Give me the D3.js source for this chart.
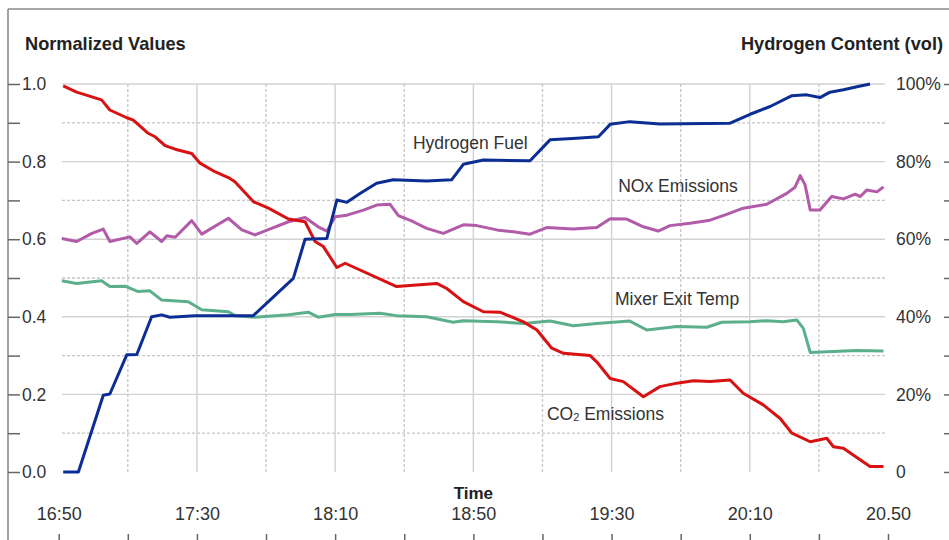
<!DOCTYPE html>
<html>
<head>
<meta charset="utf-8">
<script src="https://cdn.jsdelivr.net/npm/d3@7"></script>
<style>
  html, body { margin: 0; padding: 0; background: #fff; }
  svg { display: block; font-family: "Liberation Sans", Arial, Helvetica, sans-serif; }
</style>
</head>
<body>
<svg id="chart" width="949" height="540"></svg>
<script>
// Sample times are minutes after 16:50.
const co2Minutes = [1.3, 5.2, 12.4, 14.8, 19.7, 21.6, 25.9, 27.9, 30.8, 33.7, 38.5, 40.9, 45.2, 49.1, 51.0, 56.3, 60.7, 66.5, 71.3, 74.2, 76.6, 80.5, 82.9, 97.8, 109.4, 112.3, 117.1, 122.9, 127.7, 134.5, 138.4, 142.7, 146.1, 153.8, 155.7, 159.6, 163.4, 169.2, 174.0, 178.9, 183.7, 188.5, 194.3, 198.1, 203.9, 208.8, 212.2, 217.5, 222.3, 224.2, 227.1, 231.4, 234.8, 238.7];
const co2Values = [0.995, 0.979, 0.959, 0.933, 0.913, 0.907, 0.873, 0.864, 0.841, 0.832, 0.821, 0.796, 0.774, 0.759, 0.748, 0.697, 0.680, 0.652, 0.645, 0.594, 0.581, 0.527, 0.538, 0.478, 0.486, 0.473, 0.439, 0.413, 0.412, 0.387, 0.366, 0.319, 0.306, 0.300, 0.284, 0.241, 0.233, 0.194, 0.220, 0.229, 0.235, 0.233, 0.237, 0.203, 0.173, 0.138, 0.100, 0.078, 0.087, 0.065, 0.061, 0.035, 0.014, 0.014];

const hydrogenMinutes = [1.3, 5.7, 12.9, 14.8, 19.7, 22.6, 26.9, 29.8, 32.2, 39.4, 56.3, 67.9, 71.3, 77.6, 80.5, 83.4, 87.2, 92.0, 96.8, 106.5, 113.7, 117.1, 122.9, 136.4, 142.2, 149.9, 156.2, 159.6, 165.3, 174.0, 194.3, 200.1, 205.9, 212.2, 216.5, 220.3, 223.2, 227.1, 231.0, 234.8];
const hydrogenPercent = [0, 0, 19.8, 20.1, 30.2, 30.3, 40.0, 40.5, 39.9, 40.3, 40.3, 49.9, 60.0, 60.2, 70.1, 69.5, 71.8, 74.4, 75.3, 75.0, 75.3, 79.3, 80.4, 80.2, 85.6, 86.0, 86.4, 89.6, 90.3, 89.7, 89.9, 92.2, 94.2, 97.0, 97.2, 96.5, 97.9, 98.5, 99.3, 100];

const noxMinutes = [0.9, 5.2, 9.6, 12.9, 14.8, 20.6, 22.6, 26.4, 29.8, 31.3, 33.7, 38.5, 41.4, 49.1, 53.0, 56.8, 61.6, 66.5, 71.3, 75.1, 77.6, 80.0, 83.4, 88.2, 92.0, 95.9, 98.3, 102.6, 106.5, 111.3, 117.1, 121.0, 126.8, 131.6, 136.4, 141.2, 148.9, 155.7, 159.6, 164.4, 169.2, 173.5, 176.9, 182.7, 188.5, 193.3, 198.1, 204.9, 210.7, 213.1, 214.6, 216.0, 217.5, 220.3, 223.7, 227.1, 230.5, 232.0, 233.9, 236.8, 238.7];
const noxValues = [0.602, 0.594, 0.615, 0.626, 0.594, 0.606, 0.589, 0.619, 0.594, 0.609, 0.605, 0.648, 0.613, 0.654, 0.624, 0.611, 0.628, 0.645, 0.656, 0.632, 0.621, 0.658, 0.662, 0.675, 0.688, 0.690, 0.661, 0.645, 0.628, 0.615, 0.637, 0.635, 0.624, 0.619, 0.613, 0.630, 0.626, 0.630, 0.653, 0.652, 0.632, 0.621, 0.635, 0.641, 0.649, 0.664, 0.680, 0.690, 0.718, 0.734, 0.764, 0.740, 0.675, 0.675, 0.710, 0.704, 0.716, 0.710, 0.727, 0.722, 0.735];

const mixerMinutes = [0.9, 5.2, 12.4, 14.8, 19.2, 23.0, 26.4, 29.8, 37.5, 41.4, 49.1, 51.0, 56.8, 66.5, 72.2, 75.1, 80.0, 84.3, 93.0, 97.8, 106.5, 114.2, 117.1, 126.8, 134.5, 142.2, 148.9, 155.7, 165.3, 170.2, 178.9, 187.6, 191.9, 200.1, 204.9, 209.7, 213.6, 215.5, 217.5, 222.3, 231.0, 238.7];
const mixerValues = [0.493, 0.486, 0.493, 0.478, 0.479, 0.465, 0.467, 0.443, 0.439, 0.418, 0.413, 0.403, 0.399, 0.405, 0.412, 0.399, 0.406, 0.406, 0.409, 0.403, 0.400, 0.386, 0.390, 0.387, 0.383, 0.389, 0.377, 0.383, 0.389, 0.366, 0.375, 0.373, 0.386, 0.387, 0.390, 0.387, 0.392, 0.370, 0.308, 0.310, 0.313, 0.312];

// Axis ticks and labels
const leftTickValues = [0, 0.1, 0.2, 0.3, 0.4, 0.5, 0.6, 0.7, 0.8, 0.9, 1.0];
const leftLabelValues = [0, 0.2, 0.4, 0.6, 0.8, 1.0];
const rightLabelValues = [0, 20, 40, 60, 80, 100];
const rightLabelText = ["0", "20%", "40%", "60%", "80%", "100%"];
const timeTickMinutes = [0, 20, 40, 60, 80, 100, 120, 140, 160, 180, 200, 220, 240];
const timeLabelMinutes = [0, 40, 80, 120, 160, 200, 240];
const timeLabelText = ["16:50", "17:30", "18:10", "18:50", "19:30", "20:10", "20.50"];
const solidGridMinutes = [40, 80, 120, 160, 200];
const dottedGridMinutes = [20, 60, 100, 140, 180, 220];
const solidGridValues = [0.2, 0.4, 0.6, 0.8, 1.0];
const dottedGridValues = [0.1, 0.3, 0.5, 0.7, 0.9];

const colors = { co2: "#d81212", hydrogen: "#0c2e94", nox: "#b25ba9", mixer: "#5caf8d" };

const start = new Date(2020, 0, 1, 16, 50);
const at = m => new Date(start.getTime() + m * 60000);

const svg = d3.select("#chart");
svg.append("rect").attr("width", 949).attr("height", 540).attr("fill", "#fff");

const x = d3.scaleTime().domain([at(0), at(240)]).range([58.7, 888]);
const y = d3.scaleLinear().domain([0, 1]).range([472, 84]);
const yPct = d3.scaleLinear().domain([0, 100]).range([472, 84]);

const gridLeft = 62, gridRight = 885;

// Frame
svg.append("line").attr("x1", 8).attr("x2", 949).attr("y1", 9).attr("y2", 9)
  .attr("stroke", "#8a8a8a").attr("stroke-width", 1.6);
svg.append("line").attr("x1", 8).attr("x2", 8).attr("y1", 9).attr("y2", 540)
  .attr("stroke", "#8a8a8a").attr("stroke-width", 1.6);

// Grid
const grid = svg.append("g");
grid.selectAll(".hs").data(solidGridValues).join("line")
  .attr("x1", gridLeft).attr("x2", gridRight)
  .attr("y1", d => y(d)).attr("y2", d => y(d))
  .attr("stroke", "#d2d2d2").attr("stroke-width", 1.4);
grid.selectAll(".hd").data(dottedGridValues).join("line")
  .attr("x1", gridLeft).attr("x2", gridRight)
  .attr("y1", d => y(d)).attr("y2", d => y(d))
  .attr("stroke", "#c6c6c6").attr("stroke-width", 1.3).attr("stroke-dasharray", "3,2");
grid.selectAll(".vs").data(solidGridMinutes).join("line")
  .attr("x1", d => x(at(d))).attr("x2", d => x(at(d)))
  .attr("y1", y(1)).attr("y2", y(0))
  .attr("stroke", "#d2d2d2").attr("stroke-width", 1.4);
grid.selectAll(".vd").data(dottedGridMinutes).join("line")
  .attr("x1", d => x(at(d))).attr("x2", d => x(at(d)))
  .attr("y1", y(1)).attr("y2", y(0))
  .attr("stroke", "#c6c6c6").attr("stroke-width", 1.3).attr("stroke-dasharray", "3,2");

// Left axis: ticks at every 0.1, labels at every 0.2
const leftAxis = svg.append("g").attr("transform", "translate(8,0)")
  .call(d3.axisRight(y).tickValues(leftTickValues).tickSize(12).tickPadding(2)
    .tickFormat(d => leftLabelValues.some(v => Math.abs(v - d) < 1e-9) ? d3.format(".1f")(d) : ""));
leftAxis.select(".domain").remove();
leftAxis.selectAll("line").attr("stroke", "#666").attr("stroke-width", 1.5);
leftAxis.selectAll("text").attr("fill", "#333").attr("font-size", 17.5)
  .attr("font-family", "Liberation Sans, Arial, sans-serif");

// Right axis: ticks at the window edge, labels beside the plot
const rightTicks = svg.append("g").attr("transform", "translate(949,0)")
  .call(d3.axisLeft(yPct).tickValues(leftTickValues.map(v => v * 100)).tickSize(5).tickFormat(""));
rightTicks.select(".domain").remove();
rightTicks.selectAll("line").attr("stroke", "#666").attr("stroke-width", 1.5);

const rightLabels = svg.append("g").attr("transform", "translate(896,0)")
  .call(d3.axisRight(yPct).tickValues(rightLabelValues).tickSize(0).tickPadding(0)
    .tickFormat((d, i) => rightLabelText[i]));
rightLabels.select(".domain").remove();
rightLabels.selectAll("text").attr("fill", "#333").attr("font-size", 17.5)
  .attr("font-family", "Liberation Sans, Arial, sans-serif");

// Bottom axis: ticks every 20 minutes along the bottom edge, labels every 40
const bottomTicks = svg.append("g").attr("transform", "translate(0,541)")
  .call(d3.axisTop(x).tickValues(timeTickMinutes.map(at)).tickSize(7).tickFormat(""));
bottomTicks.select(".domain").remove();
bottomTicks.selectAll("line").attr("stroke", "#666").attr("stroke-width", 1.5);

const bottomLabels = svg.append("g").attr("transform", "translate(0,507)")
  .call(d3.axisBottom(x).tickValues(timeLabelMinutes.map(at)).tickSize(0).tickPadding(0)
    .tickFormat((d, i) => timeLabelText[i]));
bottomLabels.select(".domain").remove();
bottomLabels.selectAll("text").attr("fill", "#333").attr("font-size", 18)
  .attr("font-family", "Liberation Sans, Arial, sans-serif");

// Titles
svg.append("text").attr("x", 25).attr("y", 50).attr("font-size", 18.2).attr("font-weight", "bold")
  .attr("fill", "#222").text("Normalized Values");
svg.append("text").attr("x", 943).attr("y", 50).attr("text-anchor", "end").attr("font-size", 18.2)
  .attr("font-weight", "bold").attr("fill", "#222").text("Hydrogen Content (vol)");
svg.append("text").attr("x", x(at(120))).attr("y", 499).attr("text-anchor", "middle").attr("font-size", 17)
  .attr("font-weight", "bold").attr("fill", "#222").text("Time");

// Series
const line = d3.line().x(d => x(at(d[0]))).y(d => d[1]);
const zip = (ts, vs, scale) => ts.map((t, i) => [t, scale(vs[i])]);
const series = [
  { pts: zip(mixerMinutes, mixerValues, y), color: colors.mixer },
  { pts: zip(noxMinutes, noxValues, y), color: colors.nox },
  { pts: zip(co2Minutes, co2Values, y), color: colors.co2 },
  { pts: zip(hydrogenMinutes, hydrogenPercent, yPct), color: colors.hydrogen }
];
svg.append("g").selectAll("path").data(series).join("path")
  .attr("d", d => line(d.pts))
  .attr("fill", "none").attr("stroke", d => d.color).attr("stroke-width", 3)
  .attr("stroke-linejoin", "round").attr("stroke-linecap", "butt");

// Series labels
const labels = svg.append("g").attr("fill", "#333").attr("font-size", 17.5);
labels.append("text").attr("x", x(at(102.5))).attr("y", y(0.832)).text("Hydrogen Fuel");
labels.append("text").attr("x", x(at(161.9))).attr("y", y(0.722)).text("NOx Emissions");
labels.append("text").attr("x", x(at(161))).attr("y", y(0.430)).text("Mixer Exit Temp");
const co2Label = labels.append("text").attr("x", x(at(141.3))).attr("y", y(0.133));
co2Label.append("tspan").text("CO");
co2Label.append("tspan").attr("font-size", 11).attr("dy", 1).text("2");
co2Label.append("tspan").attr("dy", -1).text(" Emissions");
</script>
</body>
</html>
